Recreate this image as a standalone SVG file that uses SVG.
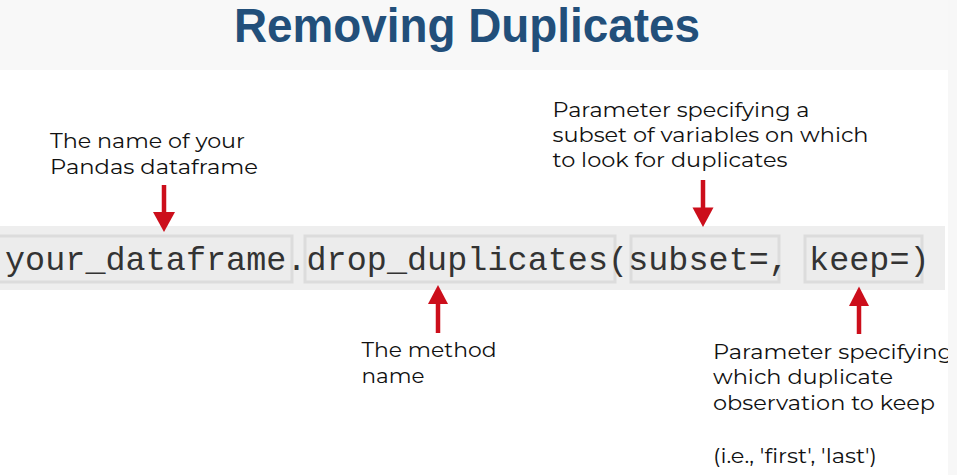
<svg xmlns="http://www.w3.org/2000/svg" width="957" height="475" viewBox="0 0 957 475">
<style>
.ann{font-family:"Montserrat","Open Sans","Liberation Sans",sans-serif;font-size:21px;fill:#111}
.code{font-family:"Liberation Mono","Courier New",monospace;font-size:33.4px;fill:#333}
.box{fill:#ececec;stroke:#dcdcdc;stroke-width:3}
.arr{stroke:#cc0e1b;stroke-width:4.5;fill:none}
.head{fill:#cc0e1b}
</style>
<defs>
<clipPath id="clipR"><rect x="0" y="0" width="948" height="475"/></clipPath>
</defs>
<rect x="0" y="0" width="957" height="475" fill="#ffffff"/>
<rect x="0" y="0" width="948" height="70" fill="#f8f8f8"/>
<rect x="948" y="0" width="9" height="475" fill="#f7f7f7"/>
<text x="234" y="42" font-family="Liberation Sans, Arial, sans-serif" font-weight="bold" font-size="48" fill="#224f7a" textLength="466" lengthAdjust="spacingAndGlyphs">Removing Duplicates</text>

<g id="code-band">
<rect x="0" y="226" width="945" height="64" fill="#eeeeee"/>
<rect class="box" x="-2" y="236" width="294" height="46"/>
<rect class="box" x="305" y="236" width="310" height="46"/>
<rect class="box" x="631" y="236" width="148" height="46"/>
<rect class="box" x="805" y="236" width="117" height="46"/>
<text class="code" x="5" y="270" textLength="924.6" lengthAdjust="spacing">your_dataframe.drop_duplicates(subset=, keep=)</text>
</g>

<g id="label-dataframe">
<text class="ann" x="50" y="148" textLength="195" lengthAdjust="spacingAndGlyphs">The name of your</text>
<text class="ann" x="50" y="173.5" textLength="208" lengthAdjust="spacingAndGlyphs">Pandas dataframe</text>
</g>
<g id="label-subset">
<text class="ann" x="552.5" y="116.5" textLength="257" lengthAdjust="spacingAndGlyphs">Parameter specifying a</text>
<text class="ann" x="552.5" y="141.5" textLength="316" lengthAdjust="spacingAndGlyphs">subset of variables on which</text>
<text class="ann" x="552.5" y="166.5" textLength="235" lengthAdjust="spacingAndGlyphs">to look for duplicates</text>
</g>
<g id="label-method">
<text class="ann" x="361.5" y="357" textLength="135" lengthAdjust="spacingAndGlyphs">The method</text>
<text class="ann" x="361.5" y="383" textLength="63" lengthAdjust="spacingAndGlyphs">name</text>
</g>
<g id="label-keep" clip-path="url(#clipR)">
<text class="ann" x="713" y="358.5" textLength="240" lengthAdjust="spacingAndGlyphs">Parameter specifying</text>
<text class="ann" x="713" y="384" textLength="180" lengthAdjust="spacingAndGlyphs">which duplicate</text>
<text class="ann" x="713" y="410" textLength="222" lengthAdjust="spacingAndGlyphs">observation to keep</text>
<text class="ann" x="713" y="462.5" textLength="164" lengthAdjust="spacingAndGlyphs">(i.e., 'first', 'last')</text>
</g>

<g id="connectors">
<line class="arr" x1="164" y1="185" x2="164" y2="214"/>
<polygon class="head" points="153,212 175,212 164,232"/>
<line class="arr" x1="703" y1="180" x2="703" y2="210"/>
<polygon class="head" points="692.5,207.5 713.5,207.5 703,227"/>
<line class="arr" x1="438" y1="333" x2="438" y2="302"/>
<polygon class="head" points="428,304 448,304 438,285"/>
<line class="arr" x1="859" y1="334" x2="859" y2="303"/>
<polygon class="head" points="849,306 869,306 859,286.5"/>
</g>
</svg>
